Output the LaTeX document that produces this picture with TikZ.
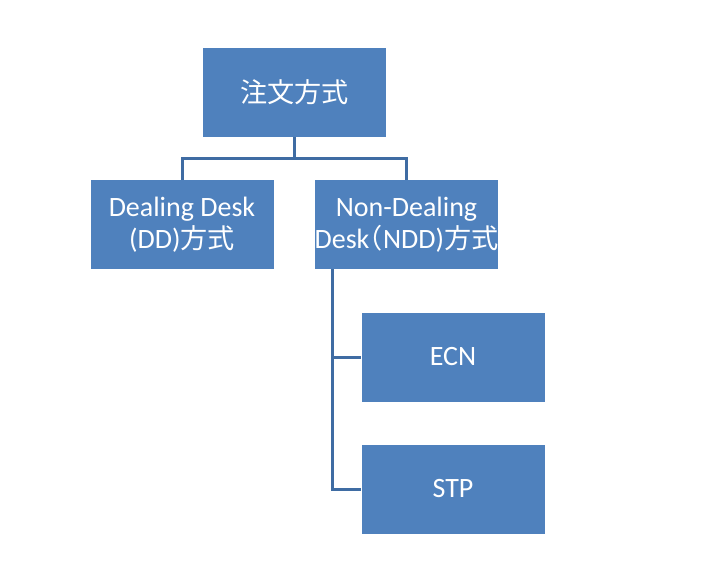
\documentclass[tikz,border=0pt]{standalone}
\usepackage{fontspec}
\setmainfont{Carlito}
\newfontfamily\jp[Scale=0.97]{Noto Sans CJK JP}
\newfontfamily\jphalf[Scale=0.97,RawFeature=+halt]{Noto Sans CJK JP}
\usepackage{tikz}

\definecolor{boxblue}{HTML}{4F81BD}
\definecolor{lineblue}{HTML}{3F6CA3}

\tikzset{
  orgbox/.style={draw=none, fill=boxblue, text=white, minimum width=183pt,
    minimum height=89pt, inner sep=0pt, align=center,
    font=\fontsize{28pt}{32pt}\selectfont},
  link/.style={draw=lineblue, line width=3pt}
}

\begin{document}
\begin{tikzpicture}[x=1pt,y=-1pt]
\useasboundingbox[fill=white] (0,0) rectangle (717,571);

\node[orgbox] (top) at (294.5,92.5) {\jp 注文方式};
\node[orgbox] (dd) at (182,224.5) {Dealing Desk\\(DD){\jp 方式}};
\node[orgbox] (ndd) at (406.5,224.5) {Non-Dealing\\Desk{\jphalf （}NDD){\jp 方式}};
\node[orgbox] (ecn) at (453,357) {ECN};
\node[orgbox] (stp) at (453,489) {STP};

% pomozne tocke
\coordinate (split) at (294.5,158);
\coordinate (trunk) at (332.5,489);

\draw[link] (top.south) -- (split);
\draw[link] (split) -| (dd.north);
\draw[link] (split) -| (ndd.north);
\draw[link] (ndd.south -| trunk) -- (trunk) -- (stp.west);
\draw[link] (ecn.west -| trunk) -- (ecn.west);
\end{tikzpicture}
\end{document}
